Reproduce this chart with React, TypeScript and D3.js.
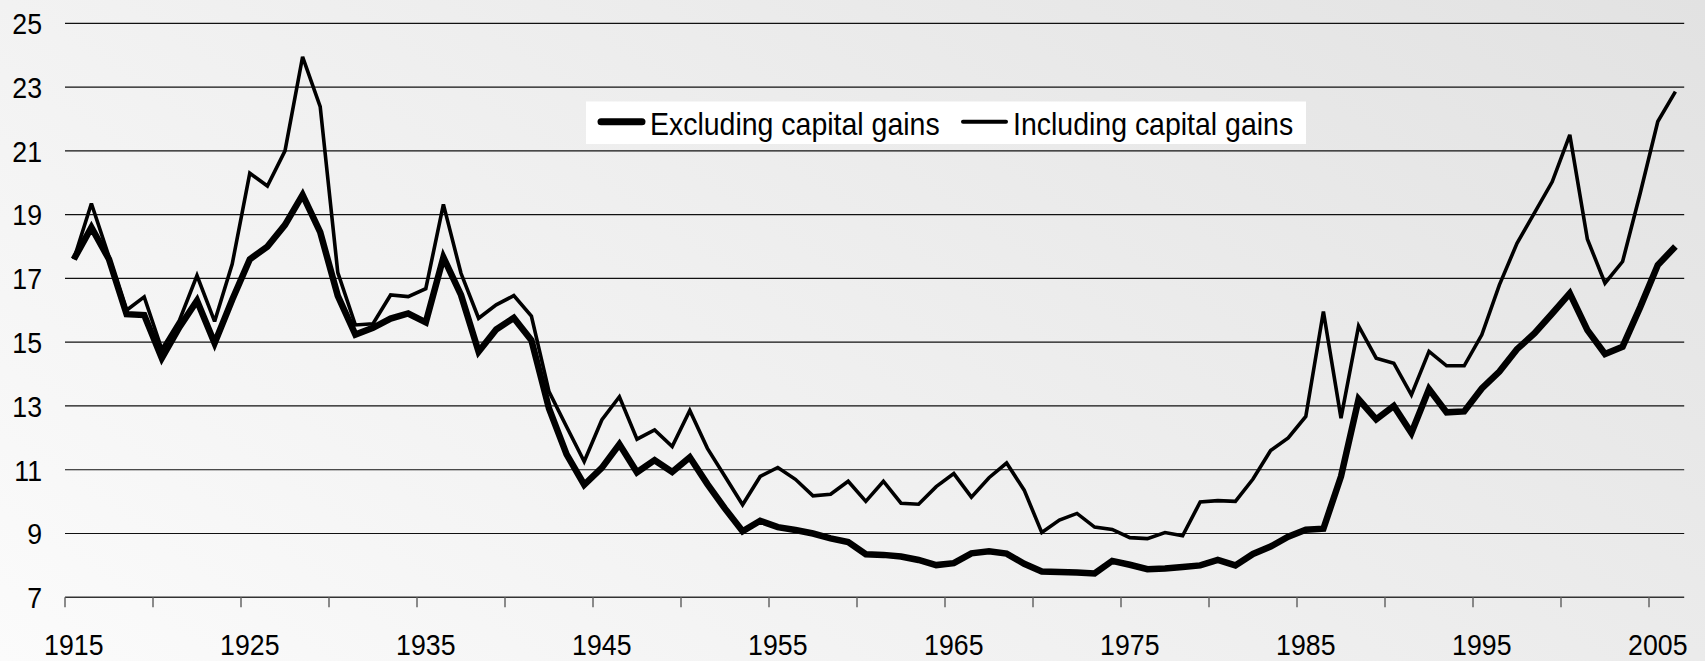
import React from "react";
import * as d3 from "d3";

// Categories: years 1915..2006
const years: number[] = d3.range(1915, 2007);

// Top 1% income share (%), excluding capital gains
const excludingKG: number[] = [
  17.6, 18.6, 17.6, 15.88, 15.85, 14.5, 15.47, 16.3, 14.97, 16.33,
  17.6, 18.0, 18.68, 19.62, 18.45, 16.45, 15.24, 15.45, 15.74, 15.9,
  15.62, 17.66, 16.48, 14.7, 15.4, 15.76, 15.06, 12.92, 11.48, 10.53,
  11.06, 11.8, 10.92, 11.3, 10.93, 11.39, 10.55, 9.78, 9.07, 9.4,
  9.2, 9.11, 9.0, 8.85, 8.73, 8.35, 8.33, 8.28, 8.17, 8.01,
  8.07, 8.38, 8.44, 8.37, 8.05, 7.81, 7.79, 7.78, 7.75, 8.14,
  8.02, 7.88, 7.9, 7.95, 8.0, 8.17, 8.0, 8.36, 8.59, 8.9,
  9.12, 9.15, 10.79, 13.21, 12.58, 13.0, 12.15, 13.53, 12.8, 12.83,
  13.55, 14.08, 14.78, 15.28, 15.9, 16.53, 15.38, 14.63, 14.86, 16.1,
  17.42, 18.0,
];

// Top 1% income share (%), including capital gains
const includingKG: number[] = [
  17.6, 19.35, 17.68, 16.0, 16.42, 14.78, 15.68, 17.09, 15.65, 17.45,
  20.3, 19.9, 21.0, 23.95, 22.39, 17.18, 15.54, 15.58, 16.48, 16.43,
  16.68, 19.32, 17.16, 15.75, 16.17, 16.46, 15.82, 13.45, 12.35, 11.26,
  12.56, 13.29, 11.96, 12.25, 11.73, 12.86, 11.67, 10.79, 9.9, 10.79,
  11.07, 10.7, 10.18, 10.23, 10.64, 10.01, 10.64, 9.95, 9.92, 10.47,
  10.88, 10.14, 10.75, 11.21, 10.36, 9.03, 9.42, 9.63, 9.2, 9.13,
  8.87, 8.84, 9.03, 8.93, 9.99, 10.03, 10.01, 10.71, 11.6, 12.0,
  12.67, 15.96, 12.62, 15.51, 14.5, 14.34, 13.35, 14.71, 14.26, 14.26,
  15.23, 16.8, 18.1, 19.06, 20.03, 21.5, 18.23, 16.85, 17.53, 19.67,
  21.92, 22.86,
];

const yTicks: number[] = [7, 9, 11, 13, 15, 17, 19, 21, 23, 25];
const xLabels: string[] = ["1915", "1925", "1935", "1945", "1955", "1965", "1975", "1985", "1995", "2005"];
const seriesNames: string[] = ["Excluding capital gains", "Including capital gains"];

const W = 1705;
const H = 661;
const FONT = "'Liberation Sans', Arial, Helvetica, sans-serif";
const SX = 0.89;

export default function App() {
  const x = d3.scaleBand<number>().domain(years).range([65, 1684.2]).padding(0);
  const y = d3.scaleLinear().domain([7, 25]).range([597.3, 23.3]);
  const bw = x.bandwidth();
  const cx = (yr: number) => (x(yr) as number) + bw / 2;

  const line = d3
    .line<number>()
    .x((_, i) => cx(years[i]))
    .y((d) => y(d));

  const tickIdx = d3.range(0, years.length + 1, 5);
  const tickX = (i: number) => (i < years.length ? (x(years[i]) as number) : 1684.2);

  return (
    <div style={{ position: "absolute", left: 0, top: 0 }}>
      <svg width={W} height={H} style={{ display: "block" }}>
        <defs>
          <linearGradient id="bg" gradientUnits="userSpaceOnUse" x1={1705} y1={0} x2={846} y2={1245}>
            <stop offset="0" stopColor="#e2e2e2" />
            <stop offset="1" stopColor="#fbfbfb" />
          </linearGradient>
        </defs>
        <rect x={0} y={0} width={W} height={H} fill="url(#bg)" />

        {/* gridlines */}
        {yTicks.filter((t) => t !== 7).map((t) => (
          <line key={t} x1={65} x2={1684.2} y1={y(t)} y2={y(t)} stroke="#111" strokeWidth={1.2} />
        ))}
        {/* x axis */}
        <line x1={65} x2={1684.2} y1={y(7)} y2={y(7)} stroke="#333" strokeWidth={1.5} />
        {tickIdx.filter((i) => i <= 90).map((i) => (
          <line key={i} x1={tickX(i)} x2={tickX(i)} y1={y(7)} y2={y(7) + 10} stroke="#666" strokeWidth={1.5} />
        ))}

        {/* y labels */}
        {yTicks.map((t) => (
          <text key={t} transform={`translate(42,${y(t) + 10.8}) scale(${SX},1)`} textAnchor="end"
            fontFamily={FONT} fontSize={30} fill="#000">{t}</text>
        ))}
        {/* x labels */}
        {xLabels.map((l) => (
          <text key={l} transform={`translate(${cx(+l)},655) scale(${SX},1)`} textAnchor="middle"
            fontFamily={FONT} fontSize={30} fill="#000">{l}</text>
        ))}

        {/* series */}
        <path d={line(excludingKG) || ""} fill="none" stroke="#000" strokeWidth={6.5} strokeLinejoin="miter" strokeMiterlimit={3} />
        <path d={line(includingKG) || ""} fill="none" stroke="#000" strokeWidth={3.6} strokeLinejoin="miter" strokeMiterlimit={3} />

        {/* legend */}
        <rect x={586} y={101.5} width={720} height={42.5} fill="#fff" />
        <line x1={601} x2={642} y1={121.7} y2={121.7} stroke="#000" strokeWidth={7} strokeLinecap="round" />
        <text transform={`translate(650,135) scale(${SX},1)`} fontFamily={FONT} fontSize={32} fill="#000">{seriesNames[0]}</text>
        <line x1={963} x2={1006} y1={121.7} y2={121.7} stroke="#000" strokeWidth={4} strokeLinecap="round" />
        <text transform={`translate(1013,135) scale(${SX},1)`} fontFamily={FONT} fontSize={32} fill="#000">{seriesNames[1]}</text>
      </svg>
    </div>
  );
}
